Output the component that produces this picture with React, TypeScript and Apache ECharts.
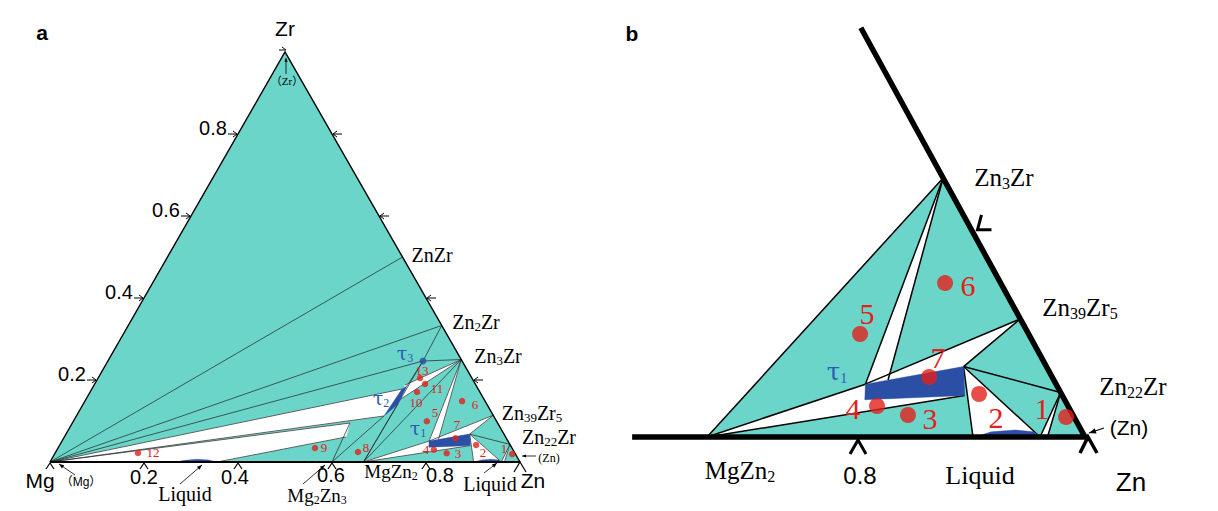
import React, { useEffect, useRef } from "react";
import * as echarts from "echarts";

type TP = [number, number]; // [x(Zn), x(Zr)] mole fractions

// ---------------- compositions ----------------
const MG: TP = [0, 0];
const ZR: TP = [0, 1];
const ZN: TP = [1, 0];
const ZNZR: TP = [0.5, 0.5];
const ZN2ZR: TP = [0.667, 0.333];
const ZN3ZR: TP = [0.75, 0.25];
const ZN39ZR5: TP = [0.886, 0.114];
const ZN22ZR: TP = [0.957, 0.043];
const MGZN2: TP = [0.667, 0];
const MG2ZN3: TP = [0.6, 0];

const TAU1: TP[] = [[0.781, 0.051], [0.788, 0.036], [0.874, 0.04], [0.859, 0.068]];
const TAU2: TP[] = [[0.6545, 0.1122], [0.6599, 0.178], [0.6669, 0.1854], [0.6697, 0.1415]];
const TAU3: TP = [0.6704, 0.2463];

const SLIVER_END: TP = [0.799, 0.055];
const TRI2_L: TP = [0.9013, 0];
const TRI2_R: TP = [0.9604, 0];
const ZN_SLIVER_R: TP = [0.967, 0];
const BAND2_TOP: TP = [0.6614, 0.1878];
const BAND2_BOT: TP = [0.6699, 0.1537];
const MGBAND_TOP: TP = [0.5907, 0.0951];
const MGBAND_BOT: TP = [0.5993, 0.061];
const MGBAND_BASE: TP = [0.3553, 0];

const LIQUID_MG_SIDE: TP[] = [[0.266, 0], [0.285, 0.004], [0.31, 0.0065], [0.335, 0.005], [0.355, 0]];
const LIQUID_ZN_SIDE: TP[] = [[0.903, 0], [0.915, 0.005], [0.935, 0.0068], [0.952, 0.005], [0.962, 0]];

const TWO_PHASE_CORNER: TP[][] = [
  [ZN3ZR, TAU1[0], SLIVER_END],
  [MGZN2, TAU1[0], TAU1[1], TAU1[2]],
  [TAU1[0], ZN39ZR5, TAU1[3]],
  [TAU1[3], TRI2_L, TRI2_R],
  [ZN22ZR, TRI2_R, ZN_SLIVER_R],
];
const TWO_PHASE_MG: TP[][] = [
  [MG, TAU2[1], TAU2[0]],
  [BAND2_TOP, ZN3ZR, BAND2_BOT],
  [MG, MGBAND_TOP, MGBAND_BOT, MGBAND_BASE],
];

const TIE_CORNER: TP[][] = [
  [MGZN2, ZN3ZR],
  [ZN3ZR, TAU1[0]],
  [ZN3ZR, SLIVER_END],
  [MGZN2, TAU1[0]],
  [MGZN2, TAU1[2]],
  [TAU1[0], ZN39ZR5],
  [TAU1[3], ZN39ZR5],
  [TAU1[3], ZN22ZR],
  [TAU1[3], TRI2_L],
  [TAU1[3], TRI2_R],
  [ZN22ZR, TRI2_R],
  [ZN22ZR, ZN_SLIVER_R],
];
const TIE_MG: TP[][] = [
  [MG, ZNZR],
  [MG, ZN2ZR],
  [MG, TAU3],
  [TAU3, ZN3ZR],
  [TAU3, ZN2ZR],
  [TAU2[2], TAU3],
  [MG, TAU2[1]],
  [MG, TAU2[0]],
  [BAND2_TOP, ZN3ZR],
  [BAND2_BOT, ZN3ZR],
  [MG2ZN3, TAU2[0]],
  [MGZN2, TAU2[3]],
  [MGZN2, TAU3],
  [MG, MGBAND_TOP],
  [MGBAND_BOT, MGBAND_BASE],
  [MG2ZN3, MGBAND_TOP],
];

const SAMPLE_IDS = ["1", "2", "3", "4", "5", "6", "7", "8", "9", "10", "11", "12", "13"];
const SAMPLES: TP[] = [
  [0.9737, 0.0193], [0.8859, 0.0415], [0.8334, 0.0212], [0.8018, 0.0299], [0.7521, 0.0994],
  [0.8024, 0.1486], [0.8337, 0.0579], [0.6431, 0.0244], [0.5468, 0.034], [0.6955, 0.1707],
  [0.7028, 0.1902], [0.1762, 0.022], [0.6848, 0.2049],
];

const ZR_TICKS = [0.2, 0.4, 0.6, 0.8];
const ZN_TICKS = [0.2, 0.4, 0.6, 0.8];
const ZN_TICKS_ZOOM = [0.8];

// ---------------- styling ----------------
const SERIF = "'Liberation Serif', 'Noto Sans CJK SC', serif";
const TAU_FONT = "'DejaVu Serif', 'Liberation Serif', serif";
const SANS = "'Liberation Sans', 'Noto Sans CJK SC', sans-serif";
const TEAL = "#6AD5C8";
const BLUE = "#2A4FA5";
const RED = "#E2211A";
const LBLUE = "#2C5AB7";

const xy = (p: TP): [number, number] => [p[0] + p[1] / 2, p[1]];

function polySeries(axis: number, polys: TP[][], fill: string, z: number) {
  return {
    type: "custom",
    coordinateSystem: "cartesian2d",
    xAxisIndex: axis,
    yAxisIndex: axis,
    z,
    silent: true,
    data: polys.map((p) => xy(p[0])),
    renderItem: (params: any, api: any) => ({
      type: "polygon",
      shape: { points: polys[params.dataIndex].map((p) => api.coord(xy(p))) },
      style: { fill, stroke: fill, lineWidth: 0.4 },
    }),
  };
}

function lineSeries(axis: number, lines: TP[][], stroke: string, width: number, z: number) {
  return {
    type: "custom",
    coordinateSystem: "cartesian2d",
    xAxisIndex: axis,
    yAxisIndex: axis,
    z,
    silent: true,
    data: lines.map((p) => xy(p[0])),
    renderItem: (params: any, api: any) => ({
      type: "polyline",
      shape: { points: lines[params.dataIndex].map((p) => api.coord(xy(p))) },
      style: { stroke, lineWidth: width, fill: null, lineJoin: "miter" },
    }),
  };
}

function buildOption() {
  return {
    animation: false,
    backgroundColor: "#fff",
    grid: [
      { left: 50, top: 52, width: 470, height: 410, show: false },
      { left: 631, top: 28, width: 454, height: 409, show: false },
    ],
    xAxis: [
      { type: "value", gridIndex: 0, min: 0, max: 1, show: false },
      { type: "value", gridIndex: 1, min: 0.6, max: 1.0, show: false },
    ],
    yAxis: [
      { type: "value", gridIndex: 0, min: 0, max: 1, show: false },
      { type: "value", gridIndex: 1, min: 0, max: 0.3948, show: false },
    ],
    series: [
      // panel a
      polySeries(0, [[MG, ZR, ZN]], TEAL, 1),
      polySeries(0, [...TWO_PHASE_CORNER, ...TWO_PHASE_MG], "#fff", 2),
      lineSeries(0, [...TIE_CORNER, ...TIE_MG], "#222", 0.7, 3),
      polySeries(0, [TAU1, TAU2, LIQUID_MG_SIDE, LIQUID_ZN_SIDE], BLUE, 4),
      lineSeries(0, [[MG, ZR, ZN]], "#000", 1.4, 5),
      lineSeries(0, [[MG, ZN]], "#000", 2.2, 5),
      {
        type: "scatter", xAxisIndex: 0, yAxisIndex: 0, z: 6, silent: true,
        data: SAMPLES.map(xy), symbolSize: 6.5, itemStyle: { color: RED },
      },
      {
        type: "scatter", xAxisIndex: 0, yAxisIndex: 0, z: 6, silent: true,
        data: [xy(TAU3)], symbolSize: 7, itemStyle: { color: BLUE },
      },
      // panel b
      polySeries(1, [[MGZN2, ZN3ZR, ZN]], TEAL, 1),
      polySeries(1, TWO_PHASE_CORNER, "#fff", 2),
      lineSeries(1, TIE_CORNER, "#000", 1.5, 3),
      polySeries(1, [TAU1, LIQUID_ZN_SIDE], BLUE, 4),
      lineSeries(1, [[[0.601, 0], ZN, [0.605, 0.395]]], "#000", 5.5, 5),
      {
        type: "scatter", xAxisIndex: 1, yAxisIndex: 1, z: 6, silent: true,
        data: SAMPLES.slice(0, 7).map(xy), symbolSize: 16, itemStyle: { color: RED },
      },
    ],
  };
}

function buildGraphics(chart: any) {
  const P = (axis: number, p: TP): number[] =>
    chart.convertToPixel({ xAxisIndex: axis, yAxisIndex: axis }, xy(p));
  const g: any[] = [];
  const text = (x: number, y: number, s: string, size: number, family = SANS, fill = "#000", weight = "normal") =>
    g.push({
      type: "text", x, y, z: 50, silent: true,
      style: {
        text: s, fontSize: size, fontFamily: family, fontWeight: weight, fill,
        align: "center", verticalAlign: "middle", textAlign: "center", textVerticalAlign: "middle",
      },
    });
  const chem = (x: number, y: number, s: string, size: number, fill = "#000", ratio = 0.65, family = SERIF) => {
    const parts = s.split(/(_\d+)/).filter(Boolean);
    const str = parts.map((p) => (p.startsWith("_") ? `{s|${p.slice(1)}}` : `{m|${p}}`)).join("");
    const ss = Math.round(size * ratio);
    g.push({
      type: "text", x, y, z: 50, silent: true,
      style: {
        text: str, align: "center", verticalAlign: "middle", textAlign: "center", textVerticalAlign: "middle",
        rich: {
          m: { fontSize: size, fontFamily: family, fill, lineHeight: Math.round(size * 1.1) },
          s: { fontSize: ss, fontFamily: SERIF, fill, lineHeight: ss, verticalAlign: "bottom" },
        },
      },
    });
  };
  const seg = (pts: number[][], w = 1, color = "#000") =>
    g.push({ type: "polyline", z: 50, silent: true, shape: { points: pts }, style: { stroke: color, lineWidth: w, fill: null } });
  const arrow = (x1: number, y1: number, x2: number, y2: number, w = 0.8, h = 5) => {
    seg([[x1, y1], [x2, y2]], w);
    const a = Math.atan2(y2 - y1, x2 - x1);
    const c = Math.cos(a), s = Math.sin(a);
    g.push({
      type: "polygon", z: 50, silent: true,
      shape: { points: [[x2, y2], [x2 - h * c + h * 0.4 * s, y2 - h * s - h * 0.4 * c], [x2 - h * c - h * 0.4 * s, y2 - h * s + h * 0.4 * c]] },
      style: { fill: "#000" },
    });
  };

  // ---------- panel a ----------
  text(42, 32, "a", 21, SANS, "#000", "bold");
  text(285, 28, "Zr", 21);
  text(40, 480, "Mg", 21);
  text(533, 480, "Zn", 21);

  ZR_TICKS.forEach((t) => {
    const [ex, ey] = P(0, [0, t]);
    seg([[ex - 10, ey], [ex - 1, ey]], 1);
    seg([[ex - 5, ey - 3], [ex - 1, ey], [ex - 5, ey + 3]], 1);
    text(ex - 25, ey - 6, t.toFixed(1), 20);
    const [rx, ry] = P(0, [1 - t, t]);
    seg([[rx + 1, ry], [rx + 10, ry]], 1);
    seg([[rx + 5, ry - 3], [rx + 1, ry], [rx + 5, ry + 3]], 1);
  });
  const bottomDx: Record<string, number> = { "0.2": 0, "0.4": -3, "0.6": -1, "0.8": 14 };
  ZN_TICKS.forEach((t) => {
    const [bx, by] = P(0, [t, 0]);
    seg([[bx - 4, by + 7], [bx, by + 1], [bx + 4, by + 7]], 1.2);
    const lab = t.toFixed(1);
    text(bx + bottomDx[lab], lab === "0.8" ? 475 : lab === "0.6" ? 475 : 477, lab, 20);
  });
  {
    const [mx, my] = P(0, MG);
    seg([[mx - 4, my + 7], [mx, my + 1], [mx + 4, my + 7]], 1.2);
    const [zx, zy] = P(0, ZN);
    seg([[zx - 6, zy + 10], [zx, zy], [zx + 6, zy + 10]], 1.2);
    const [ax, ay] = P(0, ZR);
    seg([[ax - 6, ay - 2], [ax + 1, ay - 2]], 1);
    seg([[ax - 3, ay - 5], [ax + 1, ay - 2]], 1);
  }
  text(287, 81, "（Zr）", 11, SERIF);
  arrow(286, 74, 286, 58, 0.8, 4);
  text(81, 482, "（Mg）", 12, SANS);
  arrow(75, 475, 59, 464, 0.8, 5);

  chem(432, 255, "ZnZr", 20);
  chem(476, 322, "Zn_2Zr", 20);
  chem(498, 356, "Zn_3Zr", 20);
  chem(532, 413, "Zn_39Zr_5", 20);
  chem(549, 437, "Zn_22Zr", 20);
  text(185, 494, "Liquid", 20, SERIF);
  arrow(180, 484, 202, 465);
  chem(317, 495, "Mg_2Zn_3", 19);
  arrow(303, 484, 325, 465);
  chem(391, 471, "MgZn_2", 19);
  text(490, 484, "Liquid", 20, SERIF);
  arrow(484, 473, 497, 463);
  text(549, 458, "(Zn)", 12, SERIF);
  arrow(536, 456, 522, 456, 0.8, 4);

  chem(405, 353, "τ_3", 19, LBLUE, 0.65, TAU_FONT);
  chem(381, 398, "τ_2", 19, LBLUE, 0.65, TAU_FONT);
  chem(418, 428, "τ_1", 19, LBLUE, 0.65, TAU_FONT);

  const leftLabelPos: Record<string, number[]> = {
    "1": [504, 448], "2": [483, 452], "3": [458, 453], "4": [426, 449], "5": [435, 412],
    "6": [475, 404], "7": [457, 424], "8": [366, 447], "9": [324, 447], "10": [416, 402],
    "11": [437, 388], "12": [153, 452], "13": [422, 370],
  };
  SAMPLE_IDS.forEach((id) => {
    const [x, y] = leftLabelPos[id];
    text(x, y, id, 13, SERIF, RED);
  });

  // ---------- panel b ----------
  text(632, 33, "b", 21, SANS, "#000", "bold");
  chem(1004, 177, "Zn_3Zr", 25);
  chem(1080, 307, "Zn_39Zr_5", 25);
  chem(1133, 386, "Zn_22Zr", 25);
  text(1129, 427, "(Zn)", 21, SANS);
  arrow(1104, 428, 1089, 433, 1.1, 7);
  text(1131, 482, "Zn", 26, SANS);
  chem(740, 470, "MgZn_2", 25);
  text(980, 475, "Liquid", 26, SERIF);
  chem(837, 372, "τ_1", 24, LBLUE, 0.6, TAU_FONT);

  ZN_TICKS_ZOOM.forEach((t) => {
    const [bx, by] = P(1, [t, 0]);
    seg([[bx - 8, by + 17], [bx, by + 3], [bx + 8, by + 17]], 3);
    text(bx + 2, 475, t.toFixed(1), 24);
  });
  {
    const [zx, zy] = P(1, ZN);
    seg([[zx - 5, zy + 16], [zx + 3, zy], [zx + 12, zy + 16]], 3.5);
    const [ex, ey] = P(1, [0.8, 0.2]);
    seg([[ex + 10, ey - 15], [ex + 6, ey], [ex + 20, ey]], 3);
  }
  const rightLabelPos: Record<string, number[]> = {
    "1": [1042, 408], "2": [996, 417], "3": [930, 418], "4": [853, 408],
    "5": [867, 313], "6": [968, 285], "7": [938, 357],
  };
  SAMPLE_IDS.slice(0, 7).forEach((id) => {
    const [x, y] = rightLabelPos[id];
    text(x, y, id, 30, SERIF, RED);
  });

  return g;
}

export default function App() {
  const ref = useRef<HTMLDivElement>(null);
  useEffect(() => {
    const chart = echarts.init(ref.current as HTMLDivElement, null, { renderer: "svg" });
    chart.setOption(buildOption() as any);
    chart.setOption({ graphic: buildGraphics(chart) } as any);
    return () => chart.dispose();
  }, []);
  return (
    <div
      ref={ref}
      style={{ position: "fixed", left: 0, top: 0, width: 1218, height: 511, background: "#fff" }}
    />
  );
}
